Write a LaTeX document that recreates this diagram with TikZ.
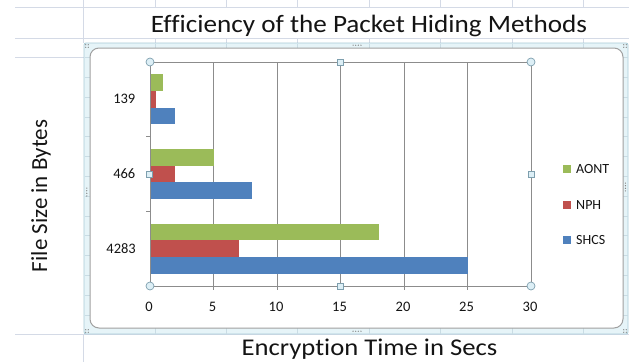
\documentclass[tikz,border=0pt]{standalone}
\usepackage{fontspec}
\setmainfont{Carlito}[Ligatures=NoCommon]
\definecolor{sheetline}{HTML}{D4DAE6}
\definecolor{framefill}{HTML}{E6F4F8}
\definecolor{frameline}{HTML}{A9CBD7}
\definecolor{frametick}{HTML}{C9DCE4}
\definecolor{chartline}{HTML}{A0A0A0}
\definecolor{plotline}{HTML}{8C8C8C}
\definecolor{aontc}{HTML}{9BBB59}
\definecolor{nphc}{HTML}{C0504D}
\definecolor{shcsc}{HTML}{4F81BD}
\definecolor{hdlfill}{HTML}{DDEFF6}
\definecolor{hdlline}{HTML}{7E9FAE}
\definecolor{dotc}{HTML}{7A7A7A}
\definecolor{txt}{HTML}{141414}
\tikzset{
  sheetgrid/.style={draw=sheetline, line width=0.8pt},
  ftick/.style={draw=frametick, line width=0.7pt},
  pgrid/.style={draw=plotline, line width=0.9pt},
  hcirc/.style={circle, draw=hdlline, fill=hdlfill, line width=0.7pt, minimum size=8pt, inner sep=0pt},
  hsq/.style={rectangle, draw=hdlline, fill=hdlfill, line width=0.7pt, minimum size=6pt, inner sep=0pt},
  catlbl/.style={anchor=east, text=txt, font=\fontsize{14.5}{15}\selectfont, inner sep=0pt},
  vallbl/.style={anchor=center, text=txt, font=\fontsize{14.5}{15}\selectfont, inner sep=0pt},
  leglbl/.style={anchor=west, text=txt, font=\fontsize{14}{15}\selectfont, inner sep=0pt},
  legkey/.style={rectangle, minimum size=8pt, inner sep=0pt},
  dotmark/.style={circle, fill=dotc, minimum size=1.3pt, inner sep=0pt},
  bigtitle/.style={text=txt, inner sep=0pt},
}
\begin{document}
\begin{tikzpicture}[x=1pt,y=-1pt]
\useasboundingbox (0,0) rectangle (629,362);
\fill[white] (0,0) rectangle (629,362);

% worksheet cells around the chart
\draw[sheetgrid] (15,7) -- (629,7);
\draw[sheetgrid] (15,38) -- (629,38);
\draw[sheetgrid] (15,57.5) -- (84,57.5);
\draw[sheetgrid] (15,334.5) -- (629,334.5);
\draw[sheetgrid] (83,0) -- (83,43);
\draw[sheetgrid] (83,334) -- (83,362);
\foreach \cx in {155,226,297,369,440,512,583} {
  \draw[sheetgrid] (\cx,0) -- (\cx,7);
  \draw[sheetgrid] (\cx,38) -- (\cx,43);
}

% selection frame of the chart object
\filldraw[fill=framefill, draw=frameline, line width=0.8pt, rounded corners=2pt] (84,43) rectangle (628,334);
\foreach \cx in {155,226,297,369,440,512,583} {
  \draw[ftick] (\cx,43.5) -- (\cx,48);
  \draw[ftick] (\cx,327.5) -- (\cx,333.5);
}
\foreach \ry in {57.5,77.3,97.1,116.9,136.7,156.5,176.3,196.1,215.9,235.7,255.5,275.3,295.1,314.9} {
  \draw[ftick] (84.5,\ry) -- (90,\ry);
  \draw[ftick] (622.5,\ry) -- (627.5,\ry);
}
% sizing grips: corners and edge midpoints
\foreach \gx/\gy in {87/46, 625/46, 87/331, 625/331} {
  \node[dotmark] at (\gx-1.2,\gy-1.2) {};
  \node[dotmark] at (\gx+1.2,\gy-1.2) {};
  \node[dotmark] at (\gx-1.2,\gy+1.2) {};
  \node[dotmark] at (\gx+1.2,\gy+1.2) {};
}
\foreach \k in {-3,-1,1,3} {
  \node[dotmark] at (357+1.3*\k,45.2) {};
  \node[dotmark] at (357+1.3*\k,331.2) {};
  \node[dotmark] at (86.8,192+1.3*\k) {};
  \node[dotmark] at (625.4,187+1.3*\k) {};
}

% chart area
\filldraw[fill=white, draw=chartline, line width=1pt, rounded corners=9pt] (90,48) rectangle (623,328);

% plot area: value grid and border
\foreach \v in {5,10,15,20,25,30} {
  \draw[pgrid] ({150+12.7*\v},62) -- ({150+12.7*\v},290);
}
\draw[pgrid] (150,62) -- (531,62);
\draw[pgrid] (150,286) -- (531,286);
\draw[pgrid] (150,286) -- (150,290);

% bars: AONT, NPH, SHCS for each file size
\foreach \i/\a/\n/\s in {0/1/0.5/2, 1/5/2/8, 2/18/7/25} {
  \pgfmathsetmacro\t{62+74.667*\i+12.44}
  \fill[aontc] (150,\t) rectangle ({150+12.7*\a},{\t+16.59});
  \fill[nphc] (150,{\t+16.59}) rectangle ({150+12.7*\n},{\t+33.18});
  \fill[shcsc] (150,{\t+33.18}) rectangle ({150+12.7*\s},{\t+49.77});
}

% category axis with its tick marks
\draw[pgrid] (150,62) -- (150,286);
\foreach \ty in {136.7,211.3} {
  \draw[pgrid] (146,\ty) -- (150,\ty);
}

% selection handles of the plot area
\node[hcirc] (hTL) at (150,62) {};
\node[hcirc] (hTR) at (531,62) {};
\node[hcirc] (hBL) at (150,286) {};
\node[hcirc] (hBR) at (531,286) {};
\node[hsq] (hT) at (340.5,62) {};
\node[hsq] (hB) at (340.5,286) {};
\node[hsq] (hL) at (149,174) {};
\node[hsq] (hR) at (531,174) {};

% category labels
\node[catlbl] (c139) at (135.5,99.3) {139};
\node[catlbl] (c466) at (135.5,174) {466};
\node[catlbl] (c4283) at (136,248.7) {4283};

% value labels
\foreach \v in {0,5,10,15,20,25,30} {
  \node[vallbl] (v\v) at ({149+12.7*\v},307) {\v};
}

% legend
\node[legkey, fill=aontc] (kA) at (567,169) {};
\node[legkey, fill=nphc] (kN) at (567,205) {};
\node[legkey, fill=shcsc] (kS) at (567,240) {};
\node[leglbl] (lA) at (576,169) {AONT};
\node[leglbl] (lN) at (576,205) {NPH};
\node[leglbl] (lS) at (576,240) {SHCS};

% titles
\node[bigtitle, anchor=base, xscale=1.086, font=\fontsize{25}{26}\selectfont] (title) at (369,32) {Efficiency of the Packet Hiding Methods};
\node[bigtitle, anchor=base, xscale=1.11, font=\fontsize{24}{26}\selectfont] (xtitle) at (369.5,355.5) {Encryption Time in Secs};
\node[bigtitle, anchor=base, rotate=90, font=\fontsize{23}{26}\selectfont] (ytitle) at (47,196) {File Size in Bytes};
\end{tikzpicture}
\end{document}
